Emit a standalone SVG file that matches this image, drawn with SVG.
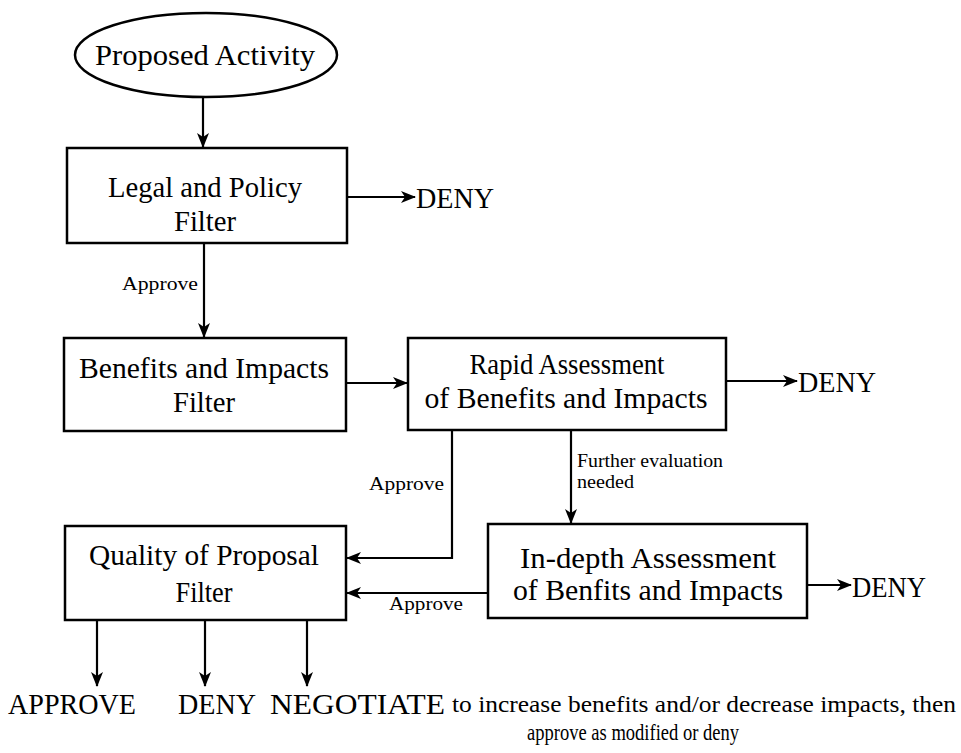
<svg xmlns="http://www.w3.org/2000/svg" width="961" height="753" viewBox="0 0 961 753">
<style>
.box{fill:#fff;stroke:#000;stroke-width:2.5}
.t{font-family:"Liberation Serif","DejaVu Serif",serif;font-size:30px;fill:#000}
.s{font-family:"Liberation Serif","DejaVu Serif",serif;font-size:19px;fill:#000}
.m{font-family:"Liberation Serif","DejaVu Serif",serif;font-size:23px;fill:#000}
.c{text-anchor:middle}
.ln{fill:none;stroke:#000;stroke-width:2.2}
</style>
<defs>
<marker id="ah" markerUnits="userSpaceOnUse" markerWidth="16" markerHeight="12" refX="14" refY="6" orient="auto">
<path d="M0,0 L15,6 L0,12 L4,6 Z" fill="#000"/>
</marker>
</defs>
<rect width="961" height="753" fill="#fff"/>
<g id="connectors">
<line class="ln" x1="203" y1="98" x2="203" y2="147" marker-end="url(#ah)"/>
<line class="ln" x1="347" y1="197" x2="415" y2="197" marker-end="url(#ah)"/>
<line class="ln" x1="204" y1="243" x2="204" y2="337" marker-end="url(#ah)"/>
<line class="ln" x1="346" y1="383" x2="407" y2="383" marker-end="url(#ah)"/>
<line class="ln" x1="726" y1="381" x2="797" y2="381" marker-end="url(#ah)"/>
<line class="ln" x1="571" y1="430" x2="571" y2="523" marker-end="url(#ah)"/>
<polyline class="ln" points="452,430 452,558 347,558" marker-end="url(#ah)"/>
<line class="ln" x1="488" y1="593" x2="347" y2="593" marker-end="url(#ah)"/>
<line class="ln" x1="807" y1="585" x2="851" y2="585" marker-end="url(#ah)"/>
<line class="ln" x1="97" y1="620" x2="97" y2="686" marker-end="url(#ah)"/>
<line class="ln" x1="205" y1="620" x2="205" y2="686" marker-end="url(#ah)"/>
<line class="ln" x1="307" y1="620" x2="307" y2="686" marker-end="url(#ah)"/>
<text class="s" x="122" y="290" textLength="76" lengthAdjust="spacingAndGlyphs">Approve</text>
<text class="s" x="369" y="490" textLength="75" lengthAdjust="spacingAndGlyphs">Approve</text>
<text class="s" x="389" y="610" textLength="74" lengthAdjust="spacingAndGlyphs">Approve</text>
<text class="s" x="577" y="467" font-size="17" textLength="146" lengthAdjust="spacingAndGlyphs">Further evaluation</text>
<text class="s" x="577" y="488" font-size="17" textLength="57" lengthAdjust="spacingAndGlyphs">needed</text>
</g>
<g id="proposed">
<ellipse cx="206" cy="55" rx="131" ry="42" class="box"/>
<text class="t c" x="205" y="65" textLength="220" lengthAdjust="spacingAndGlyphs">Proposed Activity</text>
</g>
<g id="legal">
<rect class="box" x="67" y="148" width="280" height="95"/>
<text class="t c" x="205" y="197" textLength="194" lengthAdjust="spacingAndGlyphs">Legal and Policy</text>
<text class="t c" x="205" y="231" textLength="62" lengthAdjust="spacingAndGlyphs">Filter</text>
</g>
<g id="deny1"><text class="t" x="416" y="208" textLength="78" lengthAdjust="spacingAndGlyphs">DENY</text></g>
<g id="benefits">
<rect class="box" x="64" y="338" width="282" height="93"/>
<text class="t c" x="204" y="378" textLength="250" lengthAdjust="spacingAndGlyphs">Benefits and Impacts</text>
<text class="t c" x="204" y="412" textLength="62" lengthAdjust="spacingAndGlyphs">Filter</text>
</g>
<g id="rapid">
<rect class="box" x="408" y="338" width="318" height="92"/>
<text class="t c" x="567" y="374" textLength="195" lengthAdjust="spacingAndGlyphs">Rapid Assessment</text>
<text class="t c" x="566" y="408" textLength="283" lengthAdjust="spacingAndGlyphs">of Benefits and Impacts</text>
</g>
<g id="deny2"><text class="t" x="798" y="392" textLength="78" lengthAdjust="spacingAndGlyphs">DENY</text></g>
<g id="quality">
<rect class="box" x="65" y="526" width="281" height="94"/>
<text class="t c" x="204" y="565" textLength="230" lengthAdjust="spacingAndGlyphs">Quality of Proposal</text>
<text class="t c" x="204" y="602" textLength="57" lengthAdjust="spacingAndGlyphs">Filter</text>
</g>
<g id="indepth">
<rect class="box" x="488" y="524" width="319" height="94"/>
<text class="t c" x="648" y="568" textLength="256" lengthAdjust="spacingAndGlyphs">In-depth Assessment</text>
<text class="t c" x="648" y="600" textLength="270" lengthAdjust="spacingAndGlyphs">of Benfits and Impacts</text>
</g>
<g id="deny3"><text class="t" x="852" y="597" textLength="74" lengthAdjust="spacingAndGlyphs">DENY</text></g>
<g id="outcomes">
<text class="t" x="8" y="714" textLength="128" lengthAdjust="spacingAndGlyphs">APPROVE</text>
<text class="t" x="178" y="714" textLength="78" lengthAdjust="spacingAndGlyphs">DENY</text>
<text class="t" x="270" y="714" textLength="175" lengthAdjust="spacingAndGlyphs">NEGOTIATE</text>
<text class="m" x="452" y="712" textLength="504" lengthAdjust="spacingAndGlyphs">to increase benefits and/or decrease impacts, then</text>
<text class="m" x="527" y="740" textLength="212" lengthAdjust="spacingAndGlyphs">approve as modified or deny</text>
</g>
</svg>
